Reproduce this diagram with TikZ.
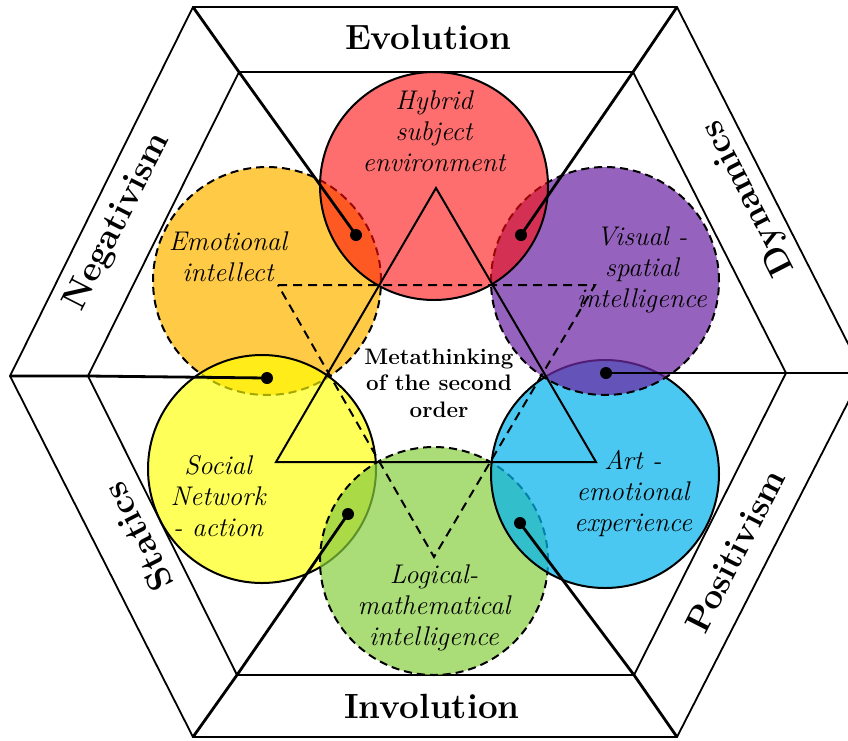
\documentclass[tikz,border=0pt]{standalone}
\definecolor{cOrange}{RGB}{255,203,70}
\definecolor{cYellow}{RGB}{255,255,0}
\definecolor{cGreen}{RGB}{134,205,62}
\definecolor{cBlue}{RGB}{5,179,235}
\definecolor{cPurple}{RGB}{110,41,164}
\definecolor{cRed}{RGB}{255,13,13}
\begin{document}
\begin{tikzpicture}[x=1pt,y=-1pt,
  hexline/.style={line width=1.8pt},
  radial/.style={line width=2.8pt},
  bubble/.style={circle, minimum size=228pt, inner sep=0pt, outer sep=0pt, line width=2pt, draw=black},
  dashedbubble/.style={bubble, dash pattern=on 8pt off 5pt},
  dot/.style={circle, fill=black, minimum size=12pt, inner sep=0pt},
  lab/.style={font=\fontsize{27}{31}\selectfont\itshape, align=center},
  meta/.style={font=\fontsize{22.4}{26.5}\selectfont\bfseries, align=center},
  band/.style={font=\fontsize{35}{40}\selectfont\bfseries},
  tri/.style={line width=2pt},
  dtri/.style={line width=2pt, dash pattern=on 9pt off 6pt},
]
\useasboundingbox (0,0) rectangle (848,740);
% hexagon vertices
\coordinate (O1) at (193,7);
\coordinate (O2) at (677,7);
\coordinate (O3) at (863,373);
\coordinate (O4) at (677,737);
\coordinate (O5) at (193,737);
\coordinate (O6) at (10,376);
\coordinate (I1) at (239,72);
\coordinate (I2) at (633,72);
\coordinate (I3) at (786,373);
\coordinate (I4) at (634,675);
\coordinate (I5) at (237,675);
\coordinate (I6) at (88,376);
\draw[hexline] (O1)--(O2)--(O3)--(O4)--(O5)--(O6)--cycle;
\draw[hexline] (I1)--(I2)--(I3)--(I4)--(I5)--(I6)--cycle;
% circles
\node[dashedbubble, fill=cOrange] (cEmo) at (267,281) {};
\node[bubble, fill=cYellow, fill opacity=0.65] (cSoc) at (262,469) {};
\node[dashedbubble, fill=cGreen, fill opacity=0.7] (cLog) at (434,561) {};
\node[bubble, fill=cBlue, fill opacity=0.72] (cArt) at (605,474) {};
\node[dashedbubble, fill=cPurple, fill opacity=0.73] (cVis) at (605,281) {};
\node[bubble, fill=cRed, fill opacity=0.6] (cHyb) at (434,186) {};
% triangles
\coordinate (T1) at (436,188);
\coordinate (T2) at (596,462);
\coordinate (T3) at (276,462);
\draw[tri] (T1)--(T2)--(T3)--cycle;
\coordinate (D1) at (278,285);
\coordinate (D2) at (595,285);
\coordinate (D3) at (434,557);
\draw[dtri] (D1)--(D2)--(D3)--cycle;
% dots and radial connectors
\node[dot] (dA) at (356,235) {};
\node[dot] (dB) at (521,235) {};
\node[dot] (dC) at (606,373) {};
\node[dot] (dD) at (520,523) {};
\node[dot] (dE) at (348,514) {};
\node[dot] (dF) at (267,378) {};
\draw[radial] (O1)--(I1)--(dA.center);
\draw[radial] (O2)--(I2)--(dB.center);
\draw[radial] (O3)--(I3)--(dC.center);
\draw[radial] (O4)--(I4)--(dD.center);
\draw[radial] (O5)--(I5)--(dE.center);
\draw[radial] (O6)--(I6)--(dF.center);
% labels in circles
\node[lab] (tHyb) at (434,131) {Hybrid\\subject\\environment};
\node[lab] (tEmo) at (228,257) {Emotional\\intellect};
\node[lab] (tVis) at (642,270) {Visual -\\spatial\\intelligence};
\node[lab] (tSoc) at (218,496) {Social\\Network\\- action};
\node[lab] (tArt) at (633,493) {Art -\\emotional\\experience};
\node[lab] (tLog) at (434,608) {Logical-\\mathematical\\intelligence};
\node[meta] (tMeta) at (439,383) {Metathinking\\of the second\\order};
% band labels
\node[band] (bEvo) at (428,37) {Evolution};
\node[band] (bInv) at (432,706) {Involution};
\node[band, rotate=63] (bNeg) at (118,222) {Negativism};
\node[band, rotate=117] (bDyn) at (749,198) {Dynamics};
\node[band, rotate=117] (bSta) at (138,537) {Statics};
\node[band, rotate=63] (bPos) at (735,551) {Positivism};
\end{tikzpicture}
\end{document}
